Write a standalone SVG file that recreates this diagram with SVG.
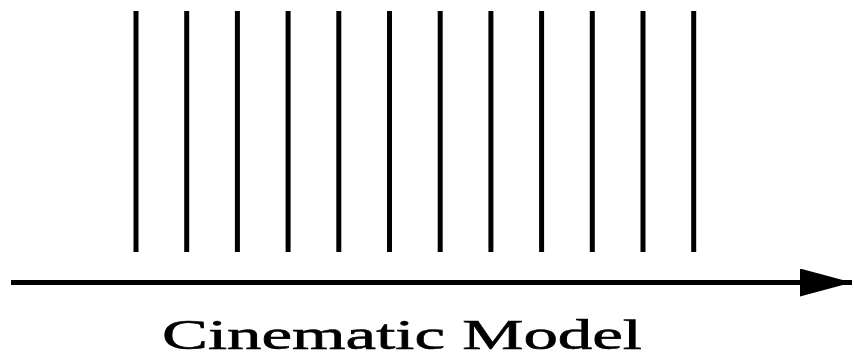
<svg xmlns="http://www.w3.org/2000/svg" width="854" height="358" viewBox="0 0 854 358">
<style>
.bar{stroke:#000;stroke-width:5}
.axis{stroke:#000;stroke-width:5}
.lbl{font-family:"Liberation Serif","Times New Roman",serif;font-size:42px;fill:#000;stroke:#000;stroke-width:0.6}
</style>
<defs>
<marker id="ah" markerUnits="userSpaceOnUse" markerWidth="54" markerHeight="28" refX="52" refY="14" orient="auto">
<polygon points="0,0 52,14 0,28" fill="#000"/>
</marker>
</defs>
<rect width="854" height="358" fill="#fff"/>
<g id="bars">
<line class="bar" x1="136" y1="11" x2="136" y2="252"/>
<line class="bar" x1="186.7" y1="11" x2="186.7" y2="252"/>
<line class="bar" x1="237.4" y1="11" x2="237.4" y2="252"/>
<line class="bar" x1="288.1" y1="11" x2="288.1" y2="252"/>
<line class="bar" x1="338.8" y1="11" x2="338.8" y2="252"/>
<line class="bar" x1="389.5" y1="11" x2="389.5" y2="252"/>
<line class="bar" x1="440.2" y1="11" x2="440.2" y2="252"/>
<line class="bar" x1="490.9" y1="11" x2="490.9" y2="252"/>
<line class="bar" x1="541.6" y1="11" x2="541.6" y2="252"/>
<line class="bar" x1="592.3" y1="11" x2="592.3" y2="252"/>
<line class="bar" x1="643" y1="11" x2="643" y2="252"/>
<line class="bar" x1="693.7" y1="11" x2="693.7" y2="252"/>
</g>
<g id="connectors">
<line class="axis" x1="11" y1="282.5" x2="852" y2="282.5" marker-end="url(#ah)"/>
</g>
<g id="label">
<text class="lbl" x="162" y="349" textLength="480" lengthAdjust="spacingAndGlyphs">Cinematic Model</text>
</g>
</svg>
